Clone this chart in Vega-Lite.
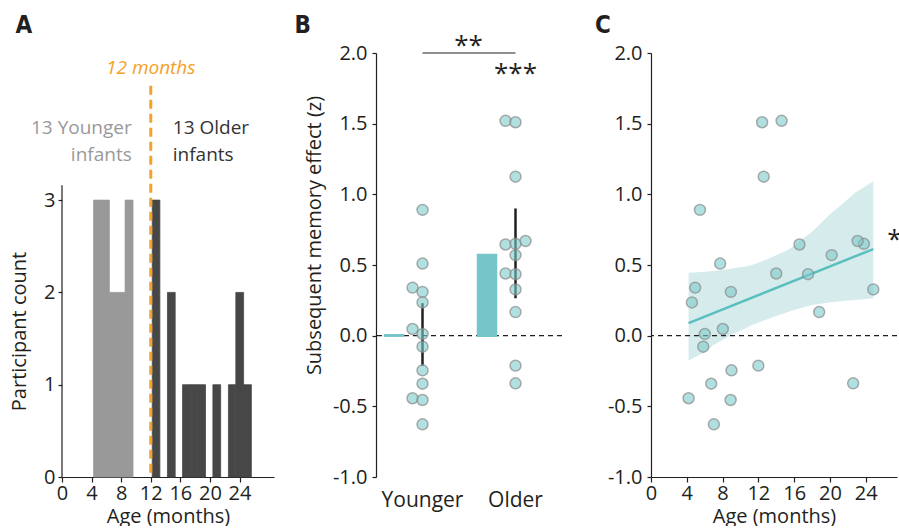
{
  "$schema": "https://vega.github.io/schema/vega-lite/v6.json",
  "padding": {"left": 9, "top": 13, "right": 0, "bottom": 0},
  "background": "white",
  "spacing": 20,
  "config": {
    "view": {"stroke": null},
    "font": "Open Sans",
    "axis": {
      "grid": false,
      "labelFont": "Open Sans",
      "labelFontSize": 20,
      "labelColor": "#231f20",
      "labelOverlap": false,
      "titleFont": "Open Sans",
      "titleFontSize": 20,
      "titleFontWeight": "normal",
      "titleColor": "#231f20",
      "domainColor": "#231f20",
      "tickColor": "#231f20",
      "domainWidth": 1.2,
      "tickWidth": 1.2,
      "tickSize": 5
    }
  },
  "datasets": {
    "hist": [
      {"start": 4.27, "end": 5.33, "count": 3, "group": "Younger"},
      {"start": 5.33, "end": 6.4, "count": 3, "group": "Younger"},
      {"start": 6.4, "end": 7.47, "count": 2, "group": "Younger"},
      {"start": 7.47, "end": 8.53, "count": 2, "group": "Younger"},
      {"start": 8.53, "end": 9.6, "count": 3, "group": "Younger"},
      {"start": 12.2, "end": 13.23, "count": 3, "group": "Older"},
      {"start": 14.26, "end": 15.3, "count": 2, "group": "Older"},
      {"start": 16.3, "end": 17.33, "count": 1, "group": "Older"},
      {"start": 17.33, "end": 18.37, "count": 1, "group": "Older"},
      {"start": 18.37, "end": 19.4, "count": 1, "group": "Older"},
      {"start": 20.4, "end": 21.45, "count": 1, "group": "Older"},
      {"start": 22.5, "end": 23.5, "count": 1, "group": "Older"},
      {"start": 23.5, "end": 24.55, "count": 2, "group": "Older"},
      {"start": 24.55, "end": 25.6, "count": 1, "group": "Older"}
    ],
    "infants": [
      {"age": 5.47, "sme": 0.89, "group": "Younger", "jitter": 0},
      {"age": 7.73, "sme": 0.51, "group": "Younger", "jitter": 0},
      {"age": 4.94, "sme": 0.34, "group": "Younger", "jitter": -1},
      {"age": 8.93, "sme": 0.31, "group": "Younger", "jitter": 0},
      {"age": 4.57, "sme": 0.235, "group": "Younger", "jitter": 0},
      {"age": 8.03, "sme": 0.047, "group": "Younger", "jitter": -1},
      {"age": 6.02, "sme": 0.012, "group": "Younger", "jitter": 0},
      {"age": 5.84, "sme": -0.078, "group": "Younger", "jitter": 0},
      {"age": 9.0, "sme": -0.245, "group": "Younger", "jitter": 0},
      {"age": 6.73, "sme": -0.34, "group": "Younger", "jitter": 0},
      {"age": 4.2, "sme": -0.443, "group": "Younger", "jitter": -1},
      {"age": 8.9, "sme": -0.455, "group": "Younger", "jitter": 0},
      {"age": 7.03, "sme": -0.627, "group": "Younger", "jitter": 0},
      {"age": 14.6, "sme": 1.52, "group": "Older", "jitter": -1},
      {"age": 12.42, "sme": 1.51, "group": "Older", "jitter": 0},
      {"age": 12.6, "sme": 1.125, "group": "Older", "jitter": 0},
      {"age": 16.6, "sme": 0.645, "group": "Older", "jitter": -1},
      {"age": 23.8, "sme": 0.65, "group": "Older", "jitter": 0},
      {"age": 23.1, "sme": 0.67, "group": "Older", "jitter": 1},
      {"age": 20.2, "sme": 0.57, "group": "Older", "jitter": 0},
      {"age": 14.0, "sme": 0.44, "group": "Older", "jitter": -1},
      {"age": 17.56, "sme": 0.435, "group": "Older", "jitter": 0},
      {"age": 24.85, "sme": 0.327, "group": "Older", "jitter": 0},
      {"age": 18.8, "sme": 0.167, "group": "Older", "jitter": 0},
      {"age": 12.0, "sme": -0.212, "group": "Older", "jitter": 0},
      {"age": 22.6, "sme": -0.337, "group": "Older", "jitter": 0}
    ],
    "summary": [
      {"group": "Younger", "mean": 0.003, "lo": -0.215, "hi": 0.23},
      {"group": "Older", "mean": 0.57, "lo": 0.265, "hi": 0.9}
    ],
    "ci": [
      {"age": 4.2, "lo": -0.175, "hi": 0.445},
      {"age": 6.14, "lo": -0.113, "hi": 0.452},
      {"age": 6.88, "lo": -0.07, "hi": 0.457},
      {"age": 8.37, "lo": -0.019, "hi": 0.468},
      {"age": 9.1, "lo": 0.01, "hi": 0.476},
      {"age": 10.6, "lo": 0.052, "hi": 0.49},
      {"age": 11.3, "lo": 0.075, "hi": 0.5},
      {"age": 12.8, "lo": 0.111, "hi": 0.535},
      {"age": 13.6, "lo": 0.13, "hi": 0.558},
      {"age": 15.4, "lo": 0.17, "hi": 0.61},
      {"age": 15.8, "lo": 0.178, "hi": 0.629},
      {"age": 18.0, "lo": 0.217, "hi": 0.735},
      {"age": 20.3, "lo": 0.238, "hi": 0.876},
      {"age": 20.6, "lo": 0.24, "hi": 0.89},
      {"age": 22.5, "lo": 0.25, "hi": 0.994},
      {"age": 22.9, "lo": 0.252, "hi": 1.015},
      {"age": 24.85, "lo": 0.264, "hi": 1.093}
    ]
  },
  "hconcat": [
    {
      "width": 212,
      "height": 424,
      "layer": [
        {
          "data": {"name": "hist"},
          "mark": {"type": "rect", "strokeWidth": 0.8},
          "encoding": {
            "x": {"field": "start", "type": "quantitative", "scale": {"domain": [0, 28.66], "nice": false},
              "axis": {"values": [0, 4, 8, 12, 16, 20, 24], "tickCount": 20, "labelOverlap": false, "labelFlush": false, "title": "Age (months)", "labelPadding": 1, "titlePadding": 3}},
            "x2": {"field": "end"},
            "y": {"field": "count", "type": "quantitative", "scale": {"domain": [0, 4.594], "nice": false},
              "axis": {"values": [0, 1, 2, 3], "tickCount": 10, "format": "d", "domain": false, "title": "Participant count", "titleY": 278, "titlePadding": 14, "labelPadding": 3, "tickSize": 4}},
            "y2": {"datum": 0},
            "color": {"field": "group", "type": "nominal", "scale": {"domain": ["Younger", "Older"], "range": ["#999999", "#474747"]}, "legend": null},
            "stroke": {"field": "group", "type": "nominal", "scale": {"domain": ["Younger", "Older"], "range": ["#999999", "#474747"]}, "legend": null}
          }
        },
        {
          "data": {"values": [{}]},
          "mark": {"type": "rule", "color": "#231f20", "strokeWidth": 1.2},
          "encoding": {"x": {"datum": 0}, "y": {"datum": 0}, "y2": {"datum": 3.16}}
        },
        {
          "data": {"values": [{}]},
          "mark": {"type": "rule", "color": "#f5a229", "strokeWidth": 3, "strokeDash": [9, 5]},
          "encoding": {"x": {"datum": 12}, "y": {"datum": 4.24}, "y2": {"datum": 0}}
        },
        {
          "data": {"values": [{}]},
          "mark": {"type": "text", "text": "12 months", "font": "Open Sans", "fontSize": 19, "fontStyle": "italic", "color": "#f5a229", "align": "center", "baseline": "alphabetic"},
          "encoding": {"x": {"datum": 12}, "y": {"datum": 4.366}}
        },
        {
          "data": {"values": [{}]},
          "mark": {"type": "text", "text": ["13 Younger", "infants"], "font": "Open Sans", "fontSize": 19, "color": "#999999", "align": "right", "baseline": "alphabetic", "lineHeight": 27, "dx": -19},
          "encoding": {"x": {"datum": 12}, "y": {"datum": 3.716}}
        },
        {
          "data": {"values": [{}]},
          "mark": {"type": "text", "text": ["13 Older", "infants"], "font": "Open Sans", "fontSize": 19, "color": "#333333", "align": "left", "baseline": "alphabetic", "lineHeight": 27, "dx": 22},
          "encoding": {"x": {"datum": 12}, "y": {"datum": 3.716}}
        },
        {
          "data": {"values": [{}]},
          "mark": {"type": "text", "text": "A", "font": "DejaVu Sans Condensed, Liberation Sans, sans-serif", "fontSize": 24, "fontWeight": "bold", "color": "#231f20", "align": "left", "baseline": "alphabetic"},
          "encoding": {"x": {"datum": -6.3}, "y": {"datum": 4.81}}
        }
      ]
    },
    {
      "spacing": 32,
      "hconcat": [
        {
          "width": 186,
          "height": 424,
          "resolve": {"scale": {"x": "independent"}},
          "layer": [
            {
              "layer": [
                {
                  "data": {"values": [{}]},
                  "mark": {"type": "rule", "color": "#231f20", "strokeWidth": 1.2, "strokeDash": [5, 4]},
                  "encoding": {"y": {"datum": 0, "type": "quantitative"}}
                },
                {
                  "data": {"name": "summary"},
                  "mark": {"type": "bar", "color": "#76c6c9", "stroke": "#76c6c9", "strokeWidth": 2.5},
                  "encoding": {
                    "x": {"field": "group", "type": "nominal", "sort": ["Younger", "Older"],
                      "scale": {"domain": ["Younger", "Older"], "paddingInner": 0.194, "paddingOuter": 0.097},
                      "axis": {"title": null, "domain": false, "ticks": false, "labelPadding": 12, "labelFontSize": 21, "labelAngle": 0}},
                    "y": {"field": "mean", "type": "quantitative", "scale": {"domain": [-1, 2], "nice": false, "zero": false},
                      "axis": {"values": [-1, -0.5, 0, 0.5, 1, 1.5, 2], "tickCount": 20, "labelExpr": "replace(format(datum.value, '.1f'), '\u2212', '-')", "title": "Subsequent memory effect (z)", "titleY": 182, "titlePadding": 8, "tickSize": 4, "labelPadding": 5}},
                    "y2": {"datum": 0}
                  }
                },
                {
                  "data": {"name": "summary"},
                  "mark": {"type": "rule", "color": "#231f20", "strokeWidth": 2.5},
                  "encoding": {
                    "x": {"field": "group", "type": "nominal"},
                    "y": {"field": "lo", "type": "quantitative"},
                    "y2": {"field": "hi"}
                  }
                },
                {
                  "data": {"values": [{}]},
                  "mark": {"type": "rule", "color": "#231f20", "strokeWidth": 1.2},
                  "encoding": {"x": {"datum": "Younger"}, "x2": {"datum": "Older"}, "y": {"datum": 2}}
                },
                {
                  "data": {"values": [{}]},
                  "mark": {"type": "text", "text": "**", "font": "Open Sans", "fontSize": 26, "color": "#231f20", "align": "center", "baseline": "middle", "dx": 46, "dy": 6},
                  "encoding": {"x": {"datum": "Younger"}, "y": {"datum": 2.09}}
                },
                {
                  "data": {"values": [{}]},
                  "mark": {"type": "text", "text": "***", "font": "Open Sans", "fontSize": 26, "color": "#231f20", "align": "center", "baseline": "middle", "dy": 4},
                  "encoding": {"x": {"datum": "Older"}, "y": {"datum": 1.88}}
                },
                {
                  "data": {"values": [{}]},
                  "mark": {"type": "text", "text": "B", "font": "DejaVu Sans Condensed, Liberation Sans, sans-serif", "fontSize": 24, "fontWeight": "bold", "color": "#231f20", "align": "left", "baseline": "alphabetic", "dx": -128},
                  "encoding": {"x": {"datum": "Younger"}, "y": {"datum": 2.142}}
                }
              ]
            },
            {
              "data": {"name": "infants"},
              "mark": {"type": "circle", "size": 120, "fill": "#7bcbcb", "fillOpacity": 0.6, "stroke": "#8a8a8a", "strokeOpacity": 0.7, "strokeWidth": 1.5},
              "encoding": {
                "x": {"field": "group", "type": "nominal", "scale": {"domain": ["Younger", "Older"], "paddingInner": 0.194, "paddingOuter": 0.097}, "axis": null},
                "xOffset": {"field": "jitter", "type": "nominal", "scale": {"domain": [-1, 0, 1], "range": [22.5, 52.5]}},
                "y": {"field": "sme", "type": "quantitative"}
              }
            }
          ]
        },
        {
          "width": 246,
          "height": 424,
          "layer": [
            {
              "data": {"name": "ci"},
              "mark": {"type": "area", "color": "#d6ecec", "opacity": 1},
              "encoding": {
                "x": {"field": "age", "type": "quantitative", "scale": {"domain": [0, 27.5], "nice": false},
                  "axis": {"values": [0, 4, 8, 12, 16, 20, 24], "tickCount": 20, "labelOverlap": false, "labelFlush": false, "title": "Age (months)", "labelPadding": 1, "titlePadding": 3}},
                "y": {"field": "lo", "type": "quantitative", "scale": {"domain": [-1, 2], "nice": false, "zero": false},
                  "axis": {"values": [-1, -0.5, 0, 0.5, 1, 1.5, 2], "tickCount": 20, "labelExpr": "replace(format(datum.value, '.1f'), '\u2212', '-')", "title": null, "tickSize": 4, "labelPadding": 5}},
                "y2": {"field": "hi"}
              }
            },
            {
              "data": {"values": [{}]},
              "mark": {"type": "rule", "color": "#231f20", "strokeWidth": 1.2, "strokeDash": [5, 4]},
              "encoding": {"y": {"datum": 0, "type": "quantitative"}}
            },
            {
              "data": {"name": "infants"},
              "transform": [{"regression": "sme", "on": "age"}],
              "mark": {"type": "line", "color": "#5bbfbf", "strokeWidth": 2.5},
              "encoding": {
                "x": {"field": "age", "type": "quantitative"},
                "y": {"field": "sme", "type": "quantitative"}
              }
            },
            {
              "data": {"name": "infants"},
              "mark": {"type": "circle", "size": 120, "fill": "#7bcbcb", "fillOpacity": 0.6, "stroke": "#8a8a8a", "strokeOpacity": 0.7, "strokeWidth": 1.5},
              "encoding": {
                "x": {"field": "age", "type": "quantitative"},
                "y": {"field": "sme", "type": "quantitative"}
              }
            },
            {
              "data": {"values": [{}]},
              "mark": {"type": "text", "text": "*", "font": "Open Sans", "fontSize": 26, "color": "#231f20", "align": "center", "baseline": "middle"},
              "encoding": {"x": {"datum": 27.2}, "y": {"datum": 0.68}}
            },
            {
              "data": {"values": [{}]},
              "mark": {"type": "text", "text": "C", "font": "DejaVu Sans Condensed, Liberation Sans, sans-serif", "fontSize": 24, "fontWeight": "bold", "color": "#231f20", "align": "left", "baseline": "alphabetic"},
              "encoding": {"x": {"datum": -6.26}, "y": {"datum": 2.142}}
            }
          ]
        }
      ]
    }
  ]
}
